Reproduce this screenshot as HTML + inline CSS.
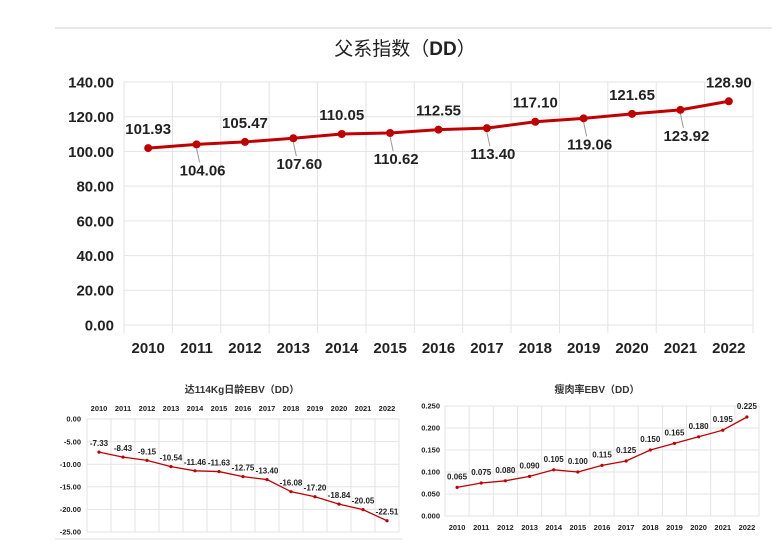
<!DOCTYPE html>
<html><head><meta charset="utf-8">
<style>
html,body{margin:0;padding:0;background:#fff;}
svg{display:block;font-family:"Liberation Sans","Noto Sans CJK SC",sans-serif;}
</style></head>
<body>
<svg id="c" width="777" height="552" viewBox="0 0 777 552" xmlns="http://www.w3.org/2000/svg">
<line x1="55" y1="28" x2="772" y2="28" stroke="#d0d0d0" stroke-width="1"/>
<text x="405" y="55" text-anchor="middle" font-size="19" fill="#222">父系指数（<tspan font-weight="bold">DD</tspan>）</text>
<text x="242" y="393" text-anchor="middle" font-size="10" font-weight="bold" fill="#333">达114Kg日龄EBV（DD）</text>
<text x="597" y="393" text-anchor="middle" font-size="10" font-weight="bold" fill="#333">瘦肉率EBV（DD）</text>
<line x1="55" y1="539" x2="403" y2="539" stroke="#e0e0e0"/>
<g id="g1"></g>
<g id="g2"></g>
<g id="g3"></g>
</svg>
<script>
const years = ["2010","2011","2012","2013","2014","2015","2016","2017","2018","2019","2020","2021","2022"];
const sireValues = [101.93,104.06,105.47,107.60,110.05,110.62,112.55,113.40,117.10,119.06,121.65,123.92,128.90];
const sireTicks = [0,20,40,60,80,100,120,140];
const daysValues = [-7.33,-8.43,-9.15,-10.54,-11.46,-11.63,-12.75,-13.40,-16.08,-17.20,-18.84,-20.05,-22.51];
const daysTicks = [0,-5,-10,-15,-20,-25];
const leanValues = [0.065,0.075,0.080,0.090,0.105,0.100,0.115,0.125,0.150,0.165,0.180,0.195,0.225];
const leanTicks = [0,0.05,0.10,0.15,0.20,0.25];

const NS="http://www.w3.org/2000/svg";
function mk(parent,tag,attrs,text){const e=document.createElementNS(NS,tag);for(const k in attrs)e.setAttribute(k,attrs[k]);if(text!==undefined)e.textContent=text;parent.appendChild(e);return e;}

function chart(g,cfg,vals,ticks){
  const band=(cfg.right-cfg.left)/years.length;
  const x=i=>cfg.left+band*(i+0.5);
  const y=v=>cfg.y0+(v-cfg.vmin)/(cfg.vmax-cfg.vmin)*(cfg.y1-cfg.y0);
  ticks.forEach(t=>{
    const ln=mk(g,'line',{x1:cfg.left,x2:cfg.right,y1:y(t),y2:y(t),stroke:cfg.grid||'#e3e3e3','stroke-width':1});
    
    
    const tx=mk(g,'text',{x:cfg.left-cfg.tickGap,y:y(t)+cfg.tfs*0.36,'text-anchor':'end','font-size':cfg.tfs,'font-weight':'bold',fill:'#222'},t.toFixed(cfg.tdec));
    
    
  });
  const yb=Math.max(y(cfg.vmin),y(cfg.vmax));
  const yt=Math.min(y(cfg.vmin),y(cfg.vmax));
  for(let i=0;i<=years.length;i++){
    const xx=cfg.left+band*i;
    const ln=mk(g,'line',{x1:xx,x2:xx,y1:yt,y2:yb+cfg.tickExt,stroke:'#e3e3e3','stroke-width':1});
    
    
  }
  years.forEach((yr,i)=>{
    const tx=mk(g,'text',{x:x(i),y:cfg.xLabY,'text-anchor':'middle','font-size':cfg.xfs,'font-weight':'bold',fill:'#222'},yr);
    
    
  });
  const pts=vals.map((v,i)=>x(i)+','+y(v)).join(' ');
  const pl=mk(g,'polyline',{points:pts,fill:'none',stroke:'#c00000','stroke-width':cfg.lw});
  
  
  vals.forEach((v,i)=>{
    const c=mk(g,'circle',{cx:x(i),cy:y(v),r:cfg.r,fill:'#c00000'});
    
    
    let dy=cfg.labDy, dx=cfg.labDx||0;
    if(cfg.alt && i%2===1 && i!==years.length-1){dy=cfg.altDy;dx=6;
      const ll=mk(g,'line',{x1:x(i),y1:y(v)+4,x2:x(i)+3,y2:y(v)+dy-cfg.lfs+2,stroke:'#999','stroke-width':1});
      
      
    }
    const tx=mk(g,'text',{x:x(i)+dx,y:y(v)+dy,'text-anchor':'middle','font-size':cfg.lfs,'font-weight':cfg.lfw,fill:'#222'},v.toFixed(cfg.ldec));
    
    
  });
}
chart(document.getElementById('g1'),{left:124,right:753,y0:325,y1:82,vmin:0,vmax:140,tfs:15,tdec:2,tickGap:10,tickExt:8,xfs:15,xLabY:353,lw:3,r:4,labDy:-14,alt:true,altDy:31,lfs:15,lfw:'bold',ldec:2},sireValues,sireTicks);
chart(document.getElementById('g2'),{left:87,right:399,y0:419,y1:532,vmin:0,vmax:-25,tfs:7.5,tdec:2,tickGap:6,tickExt:0,xfs:7.5,xLabY:411,lw:1.3,r:1.6,labDy:-6,labDx:0,alt:false,lfs:8,lfw:'bold',ldec:2},daysValues,daysTicks);
chart(document.getElementById('g3'),{left:445,right:759,y0:516,y1:406,vmin:0,vmax:0.25,tfs:7.5,tdec:3,tickGap:5,tickExt:0,xfs:7.5,xLabY:530,lw:1.3,r:1.6,labDy:-8,alt:false,lfs:8,lfw:'bold',ldec:3,grid:'#e3e3e3'},leanValues,leanTicks);
</script>
</body></html>
